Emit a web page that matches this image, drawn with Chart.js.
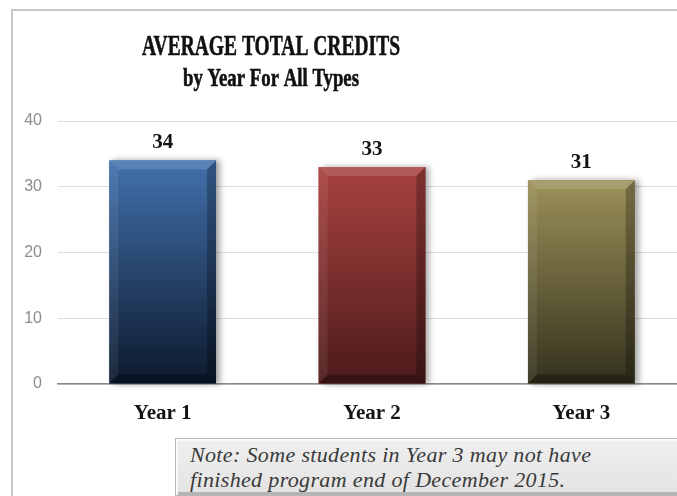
<!DOCTYPE html>
<html>
<head>
<meta charset="utf-8">
<script src="https://cdn.jsdelivr.net/npm/chart.js@4/dist/chart.umd.min.js"></script>
<style>
  html, body { margin: 0; padding: 0; background: #fff; overflow: hidden; }
  #clip { position: absolute; left: 0; top: 0; width: 677px; height: 496px; overflow: hidden; }
  #wrap { position: absolute; left: 0; top: 0; width: 700px; height: 496px; }
  #note { position: absolute; left: 175px; top: 438px; width: 540px; height: 58px;
          box-sizing: border-box; padding: 3px 0 0 14px;
          background: linear-gradient(#efefef, #e3e3e3);
          border: 1px solid #b8b8b8;
          box-shadow: inset 2px 2px 0 #fafafa, inset -2px -3px 0 #b4b4b4;
          font: italic 22px "Liberation Serif", serif; letter-spacing: 0.35px;
          line-height: 25px; color: #3a3a3a; white-space: nowrap; }
</style>
</head>
<body>
<div id="clip">
  <div id="wrap"><canvas id="creditsChart"></canvas></div>
  <div id="note">Note: Some students in Year 3 may not have<br>finished program end of December 2015.</div>
</div>
<script>
document.addEventListener('DOMContentLoaded', function () {
    const years = ['Year 1', 'Year 2', 'Year 3'];
    const avgCredits = [34, 33, 31];
    const yTicks = [0, 10, 20, 30, 40];

    const barTop = ['#4271ad', '#a8423f', '#9c9159'];
    const barBottom = ['#0c192c', '#4c1b1b', '#34311d'];

    // chart border - only left and top show in the cropped original
    const framePlugin = {
        id: 'frame',
        beforeDraw(chart) {
            const ctx = chart.ctx;
            ctx.save();
            ctx.strokeStyle = '#c6c6c6';
            ctx.lineWidth = 2;
            ctx.beginPath();
            ctx.moveTo(12, chart.height + 5);
            ctx.lineTo(12, 10);
            ctx.lineTo(chart.width + 5, 10);
            ctx.stroke();
            ctx.restore();
        }
    };

    // title drawn by hand so it can sit left of centre like the original
    const titlePlugin = {
        id: 'titles',
        afterDraw(chart) {
            const ctx = chart.ctx;
            const lines = [
                { text: 'AVERAGE TOTAL CREDITS', size: 30, y: 55, w: 258 },
                { text: 'by Year For All Types', size: 25, y: 86, w: 176 }
            ];
            ctx.save();
            ctx.fillStyle = '#111';
            ctx.strokeStyle = '#111';
            ctx.lineWidth = 0.6;
            ctx.textAlign = 'center';
            lines.forEach(function (l) {
                ctx.font = 'bold ' + l.size + 'px "Liberation Serif"';
                const natural = ctx.measureText(l.text).width;
                ctx.save();
                ctx.translate(271, l.y);
                ctx.scale(l.w / natural, 1);
                ctx.fillText(l.text, 0, 0);
                ctx.strokeText(l.text, 0, 0);
                ctx.restore();
            });
            ctx.restore();
        }
    };

    // bevelled bars + value labels
    const bevelPlugin = {
        id: 'bevel',
        afterDatasetsDraw(chart) {
            const ctx = chart.ctx;
            const meta = chart.getDatasetMeta(0);
            meta.data.forEach(function (bar, i) {
                const w = bar.width;
                const l = bar.x - w / 2, r = bar.x + w / 2;
                const t = bar.y, b = bar.base;
                const bv = 9;
                ctx.save();
                ctx.shadowColor = 'rgba(0,0,0,0.35)';
                ctx.shadowBlur = 6;
                ctx.shadowOffsetX = 4;
                const g = ctx.createLinearGradient(0, t, 0, b);
                g.addColorStop(0, barTop[i]);
                g.addColorStop(1, barBottom[i]);
                ctx.fillStyle = g;
                ctx.fillRect(l, t, w, b - t);
                ctx.restore();

                ctx.save();
                ctx.fillStyle = 'rgba(255,255,255,0.14)';
                ctx.beginPath();
                ctx.moveTo(l, t); ctx.lineTo(r, t); ctx.lineTo(r - bv, t + bv); ctx.lineTo(l + bv, t + bv);
                ctx.closePath(); ctx.fill();
                ctx.fillStyle = 'rgba(255,255,255,0.07)';
                ctx.beginPath();
                ctx.moveTo(l, t); ctx.lineTo(l + bv, t + bv); ctx.lineTo(l + bv, b - bv); ctx.lineTo(l, b);
                ctx.closePath(); ctx.fill();
                ctx.fillStyle = 'rgba(0,0,0,0.25)';
                ctx.beginPath();
                ctx.moveTo(r, t); ctx.lineTo(r - bv, t + bv); ctx.lineTo(r - bv, b - bv); ctx.lineTo(r, b);
                ctx.closePath(); ctx.fill();
                ctx.fillStyle = 'rgba(0,0,0,0.3)';
                ctx.beginPath();
                ctx.moveTo(l, b); ctx.lineTo(l + bv, b - bv); ctx.lineTo(r - bv, b - bv); ctx.lineTo(r, b);
                ctx.closePath(); ctx.fill();

                ctx.fillStyle = '#141414';
                ctx.font = 'bold 21px "Liberation Serif"';
                ctx.textAlign = 'center';
                ctx.fillText(String(avgCredits[i]), bar.x, t - 12);
                ctx.restore();
            });
        }
    };

    const ctxCredits = document.getElementById('creditsChart').getContext('2d');

    new Chart(ctxCredits, {
        type: 'bar',
        data: {
            labels: years,
            datasets: [{
                label: 'Average Total Credits',
                data: avgCredits,
                backgroundColor: barTop,
                borderWidth: 0,
                categoryPercentage: 0.51,
                barPercentage: 1
            }]
        },
        options: {
            responsive: true,
            maintainAspectRatio: false,
            animation: false,
            layout: { padding: { top: 121, right: 14, left: 0, bottom: 0 } },
            scales: {
                y: {
                    min: 0,
                    max: 40,
                    afterBuildTicks: function (scale) {
                        scale.ticks = yTicks.map(function (v) { return { value: v }; });
                    },
                    afterFit: function (scale) { scale.width = 58; },
                    ticks: { color: '#8c8c8c', font: { family: '"Liberation Sans"', size: 16 }, padding: 16 },
                    grid: { color: '#dcdcdc', lineWidth: 1, drawTicks: false },
                    border: { display: false }
                },
                x: {
                    afterFit: function (scale) { scale.height = 112; },
                    ticks: {
                        color: '#141414',
                        font: { family: '"Liberation Serif"', size: 21, weight: 'bold' },
                        padding: 17
                    },
                    grid: { display: false, drawTicks: false },
                    border: { display: true, color: '#8a8a8a', width: 1.5 }
                }
            },
            plugins: {
                legend: { display: false },
                title: { display: false },
                tooltip: { enabled: false }
            }
        },
        plugins: [framePlugin, titlePlugin, bevelPlugin]
    });
});
</script>
</body>
</html>
